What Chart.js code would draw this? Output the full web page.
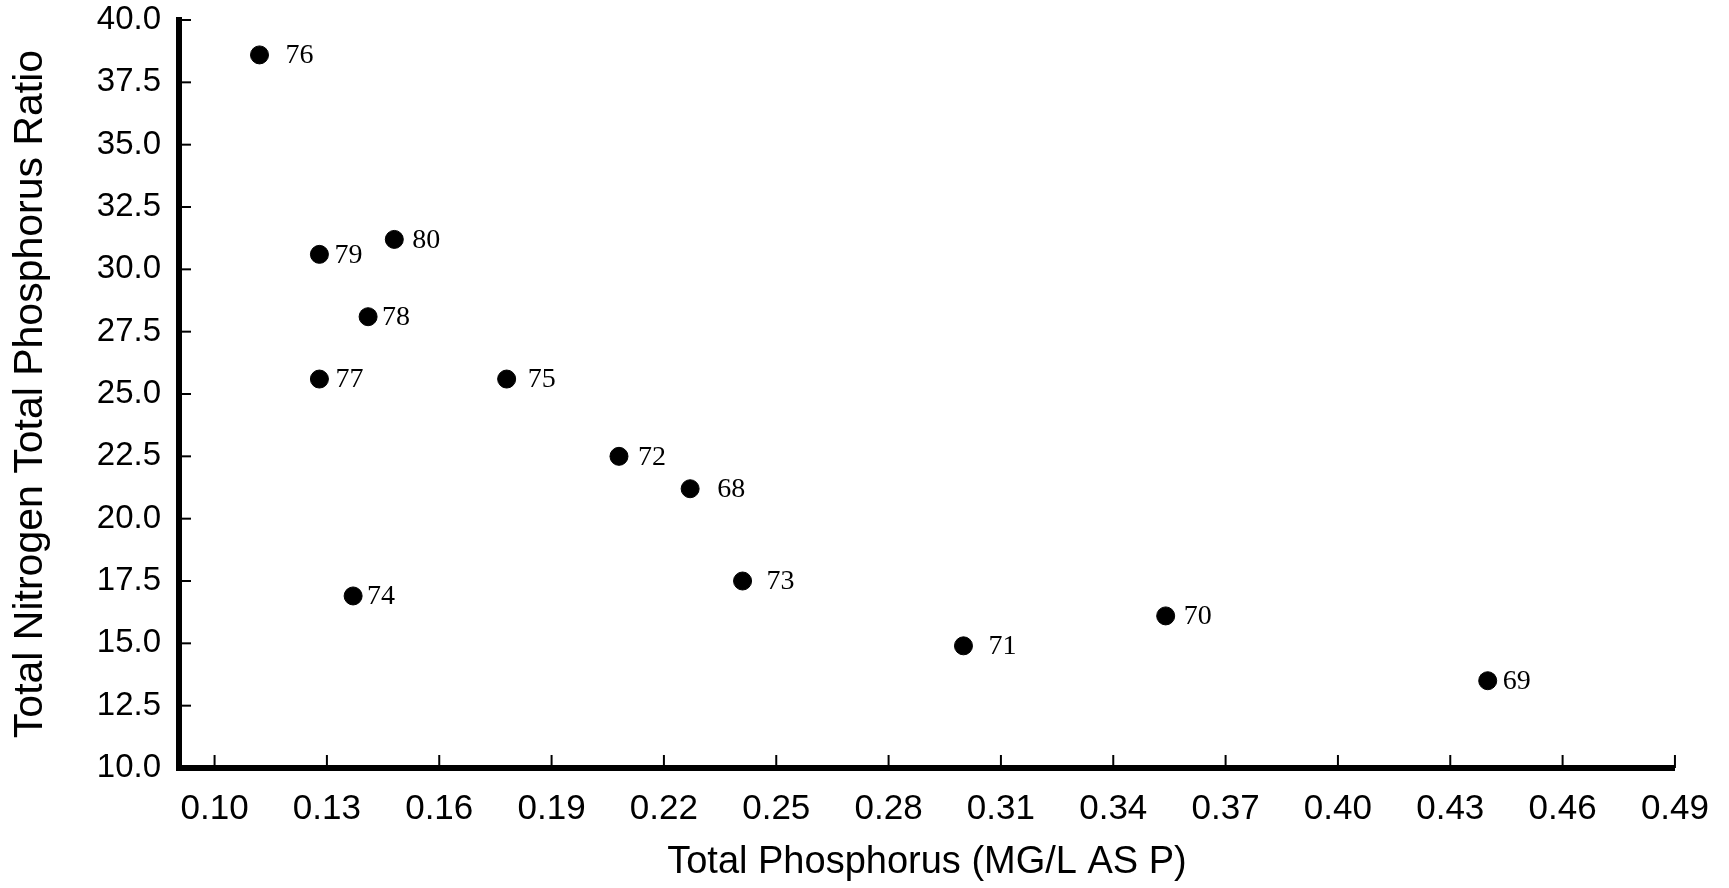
<!DOCTYPE html>
<html>
<head>
<meta charset="utf-8">
<title>Total N / Total P ratio vs Total P</title>
<script src="https://cdn.jsdelivr.net/npm/chart.js"></script>
<style>
    html, body { margin: 0; padding: 0; background: #fff; }
    #wrap { width: 1729px; height: 888px; position: relative; }
</style>
</head>
<body>
<div id="wrap"><canvas id="chart"></canvas></div>
<script>
// values (year labels next to each point)
const years = ['68', '69', '70', '71', '72', '73', '74', '75', '76', '77', '78', '79', '80'];
const totalPhosphorus = [0.227, 0.440, 0.354, 0.300, 0.208, 0.241, 0.137, 0.178, 0.112, 0.128, 0.141, 0.128, 0.148];
const npRatio = [21.2, 13.5, 16.1, 14.9, 22.5, 17.5, 16.9, 25.6, 38.6, 25.6, 28.1, 30.6, 31.2];

const xTickLabels = ['0.10', '0.13', '0.16', '0.19', '0.22', '0.25', '0.28', '0.31', '0.34', '0.37', '0.40', '0.43', '0.46', '0.49'];
const yTickLabels = ['10.0', '12.5', '15.0', '17.5', '20.0', '22.5', '25.0', '27.5', '30.0', '32.5', '35.0', '37.5', '40.0'];

// gap between dot centre and its year label (px), as in the original
const labelGap = [27, 15, 18, 25, 19, 24, 14, 21, 26, 16, 14, 15, 18];

const sansFont = "'Liberation Sans', Arial, sans-serif";

// small inward tick marks, like the old plotting package
const inwardTicks = {
    id: 'inwardTicks',
    afterDraw(chart) {
        const ctx = chart.ctx;
        const xs = chart.scales.x, ys = chart.scales.y;
        const area = chart.chartArea;
        ctx.save();
        ctx.strokeStyle = '#000';
        ctx.lineWidth = 2;
        xs.ticks.forEach(t => {
            const px = xs.getPixelForValue(t.value);
            ctx.beginPath();
            ctx.moveTo(px, area.bottom);
            ctx.lineTo(px, area.bottom - 13);
            ctx.stroke();
        });
        ys.ticks.forEach(t => {
            const py = ys.getPixelForValue(t.value);
            ctx.beginPath();
            ctx.moveTo(area.left, py);
            ctx.lineTo(area.left + 12, py);
            ctx.stroke();
        });
        ctx.restore();
    }
};

const yearLabels = {
    id: 'yearLabels',
    afterDatasetsDraw(chart) {
        const ctx = chart.ctx;
        const meta = chart.getDatasetMeta(0);
        ctx.save();
        ctx.fillStyle = '#000';
        ctx.font = "28px 'Liberation Serif', 'Times New Roman', serif";
        ctx.textAlign = 'left';
        ctx.textBaseline = 'middle';
        meta.data.forEach((pt, i) => {
            ctx.fillText(years[i], pt.x + labelGap[i], pt.y + 1);
        });
        ctx.restore();
    }
};

const points = totalPhosphorus.map((x, i) => ({ x: x, y: npRatio[i] }));

new Chart(document.getElementById('chart'), {
    type: 'scatter',
    data: {
        datasets: [{
            label: 'TN:TP',
            data: points,
            backgroundColor: '#000',
            borderColor: '#000',
            pointRadius: 9,
            pointHoverRadius: 9,
        }],
    },
    options: {
        responsive: true,
        maintainAspectRatio: false,
        animation: false,
        layout: { padding: { top: 0, right: 50, left: 0, bottom: 0 } },
        plugins: {
            legend: { display: false },
            tooltip: { enabled: false },
        },
        scales: {
            x: {
                type: 'linear',
                min: 0.0905,
                max: 0.49,
                afterBuildTicks: scale => {
                    scale.ticks = xTickLabels.map(l => ({ value: parseFloat(l) }));
                },
                afterFit: scale => { scale.height = 120; },
                grid: { display: false, drawTicks: false },
                border: { display: true, color: '#000', width: 6 },
                ticks: {
                    color: '#000',
                    font: { family: sansFont, size: 35 },
                    padding: 20,
                    maxRotation: 0,
                    autoSkip: false,
                    callback: (v, i) => xTickLabels[i],
                },
                title: {
                    display: true,
                    text: 'Total Phosphorus (MG/L AS P)',
                    color: '#000',
                    font: { family: sansFont, size: 38 },
                    padding: { top: 0, bottom: 3 },
                },
            },
            y: {
                type: 'linear',
                min: 10,
                max: 40,
                afterBuildTicks: scale => {
                    scale.ticks = yTickLabels.map(l => ({ value: parseFloat(l) }));
                },
                afterFit: scale => {
                    scale.width = 179;
                    scale.paddingTop = 20; // top tick sits close to the edge, as in the scan
                },
                grid: { display: false, drawTicks: false },
                border: { display: true, color: '#000', width: 6 },
                ticks: {
                    color: '#000',
                    font: { family: sansFont, size: 33 },
                    padding: 18,
                    autoSkip: false,
                    callback: (v, i) => yTickLabels[i],
                },
                title: {
                    display: true,
                    text: 'Total Nitrogen Total Phosphorus Ratio',
                    color: '#000',
                    font: { family: sansFont, size: 41 },
                    padding: { top: 6, bottom: 0 },
                },
            },
        },
    },
    plugins: [inwardTicks, yearLabels],
});
</script>
</body>
</html>
